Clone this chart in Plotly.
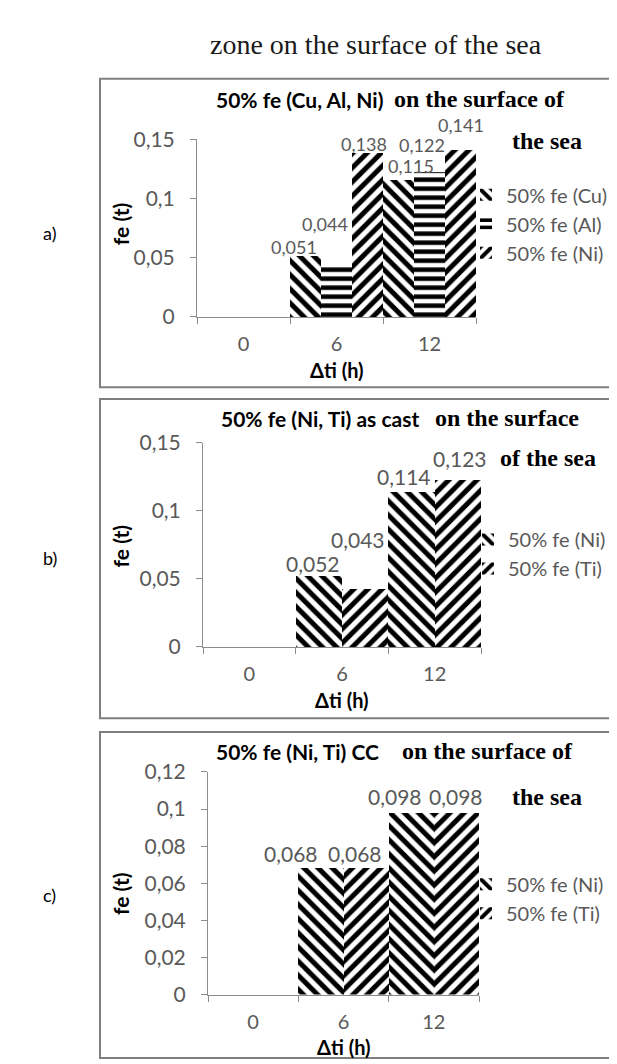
import plotly.graph_objects as go

# ---------------- data ----------------
categories = ["0", "6", "12"]

a_cu = [0, 0.051, 0.115]
a_al = [0, 0.044, 0.122]
a_ni = [0, 0.138, 0.141]

b_ni = [0, 0.052, 0.114]
b_ti = [0, 0.043, 0.123]

c_ni = [0, 0.068, 0.098]
c_ti = [0, 0.068, 0.098]

yticks_ab = [0, 0.05, 0.1, 0.15]
yticks_c = [0, 0.02, 0.04, 0.06, 0.08, 0.1, 0.12]

W, H = 617, 1064
SANS = "Lato"
SERIF = "Liberation Serif"
GRAY_TXT = "#595959"
AXIS_COL = "#8c8c8c"


def px(x):
    return x / W


def py(y):
    return 1 - y / H


def lab(v):
    return f"{v:.3f}".replace(".", ",")


def tick_txt(v):
    return str(v).replace(".", ",")


fig = go.Figure()
ann = []

# label offsets (style only): (dx px, lift px above bar top) per category
panels = [
    dict(sfx="", xl=189, xr=468, y0=302, ytop=120, rng=[0, 0.15], ticks=yticks_ab,
         box=(92, 58, 614, 374), legend="legend", lab_size=18, fey=207,
         series=[("50% fe (Cu)", a_cu, "\\", 10, [None, (-12, 9), (12, 15)]),
                 ("50% fe (Al)", a_al, "-", 9, [None, (-12, 41), (-8, 27)]),
                 ("50% fe (Ni)", a_ni, "/", 10, [None, (-4, 9), (0, 25)])]),
    dict(sfx="2", xl=195, xr=473, y0=640, ytop=431, rng=[0, 0.15], ticks=yticks_ab,
         box=(92, 386, 614, 713), legend="legend2", lab_size=21, fey=537,
         series=[("50% fe (Ni)", b_ni, "\\", 10, [None, (-6, 13), (-8, 15)]),
                 ("50% fe (Ti)", b_ti, "/", 10, [None, (-7, 49), (2, 21)])]),
    dict(sfx="3", xl=200, xr=471, y0=996, ytop=768, rng=[0, 0.12], ticks=yticks_c,
         box=(92, 727, 614, 1061), legend="legend3", lab_size=21, fey=893,
         series=[("50% fe (Ni)", c_ni, "\\", 10, [None, (-30, 15), (-16, 16)]),
                 ("50% fe (Ti)", c_ti, "/", 10, [None, (-11, 15), (0, 16)])]),
]

for p in panels:
    n = len(p["series"])
    for k, (name, vals, shape, size, offs) in enumerate(p["series"]):
        fig.add_trace(go.Bar(
            x=categories, y=vals, name=name,
            marker=dict(color="white", line=dict(width=0),
                        pattern=dict(shape=shape, fgcolor="black", bgcolor="white",
                                     fgopacity=1, size=size, solidity=0.5)),
            xaxis="x" + p["sfx"], yaxis="y" + p["sfx"], legend=p["legend"],
        ))
        for i, v in enumerate(vals):
            if v == 0 or offs[i] is None:
                continue
            dx, lift = offs[i]
            ann.append(dict(
                x=i + (k - (n - 1) / 2) / n, y=v,
                xref="x" + p["sfx"], yref="y" + p["sfx"],
                text=lab(v), showarrow=False, xanchor="center", yanchor="middle",
                xshift=dx, yshift=lift,
                font=dict(family=SANS, size=p["lab_size"], color=GRAY_TXT)))

layout = dict(
    width=W, height=H, margin=dict(l=0, r=0, t=0, b=0),
    paper_bgcolor="white", plot_bgcolor="white",
    barmode="group", bargap=0, bargroupgap=0,
    showlegend=True,
)

shapes = []
for p in panels:
    sfx = p["sfx"]
    layout["xaxis" + sfx] = dict(
        domain=[px(p["xl"]), px(p["xr"])], anchor="y" + sfx,
        type="category", categoryorder="array", categoryarray=categories,
        range=[-0.5, 2.5], tickson="boundaries", ticks="outside", ticklen=6,
        tickcolor=AXIS_COL, showline=True, linecolor=AXIS_COL, linewidth=1,
        showgrid=False, zeroline=False, ticklabelstandoff=9,
        tickfont=dict(family=SANS, size=20, color=GRAY_TXT),
    )
    layout["yaxis" + sfx] = dict(
        domain=[py(p["y0"]), py(p["ytop"])], anchor="x" + sfx,
        range=p["rng"], tickvals=p["ticks"], ticktext=[tick_txt(v) for v in p["ticks"]],
        ticks="outside", ticklen=6, tickcolor=AXIS_COL,
        showline=True, linecolor=AXIS_COL, linewidth=1,
        showgrid=False, zeroline=False, ticklabelstandoff=11,
        tickfont=dict(family=SANS, size=21, color=GRAY_TXT),
    )
    x0, y0, x1, y1 = p["box"]
    shapes.append(dict(type="rect", xref="paper", yref="paper",
                       x0=px(x0), x1=px(x1), y0=py(y0), y1=py(y1),
                       line=dict(color="#7f7f7f", width=2), layer="below"))

layout["shapes"] = shapes

legend_common = dict(xanchor="left", yanchor="top", bgcolor="rgba(0,0,0,0)",
                     font=dict(family=SANS, size=20, color=GRAY_TXT),
                     itemwidth=30, tracegroupgap=0, traceorder="normal")
layout["legend"] = dict(x=px(458), y=py(157), **legend_common)
layout["legend2"] = dict(x=px(460), y=py(510), **legend_common)
layout["legend3"] = dict(x=px(458), y=py(863), **legend_common)


def text(x, y, s, family, size, color="black", xanchor="left", bold=False, angle=0):
    ann.append(dict(x=px(x), y=py(y), xref="paper", yref="paper",
                    text=("<b>%s</b>" % s) if bold else s, showarrow=False,
                    xanchor=xanchor, yanchor="middle", textangle=angle,
                    font=dict(family=family, size=size, color=color)))


# main title
text(200, 23, "zone on the surface of the sea", SERIF, 28, "#1a1a1a")

# panel titles
text(377, 79, "50% fe (Cu, Al, Ni)", SANS, 21, "black", "right", True)
text(384, 79, "on the surface of", SERIF, 24, "black", "left", True)
text(502, 122, "the sea", SERIF, 24, "black", "left", True)

text(413, 406, "50% fe (Ni, Ti) as cast", SANS, 21, "black", "right", True)
text(425, 406, "on the surface", SERIF, 24, "black", "left", True)
text(490, 447, "of the sea", SERIF, 24, "black", "left", True)

text(373, 747, "50% fe (Ni, Ti) CC", SANS, 21, "black", "right", True)
text(392, 747, "on the surface of", SERIF, 24, "black", "left", True)
text(502, 794, "the sea", SERIF, 24, "black", "left", True)

# axis titles
for p in panels:
    text(112, p["fey"], "fe (t)", SANS, 21, "black", "center", True, -90)
    text((p["xl"] + p["xr"]) / 2, p["y0"] + 54, "Δti (h)", SANS, 20, "black", "center", True)

# panel labels
for s, y in [("a)", 216), ("b)", 549), ("c)", 894)]:
    text(42, y, s, SANS, 18, "black", "center")

layout["annotations"] = ann
fig.update_layout(**layout)

fig.write_html("out.html")
